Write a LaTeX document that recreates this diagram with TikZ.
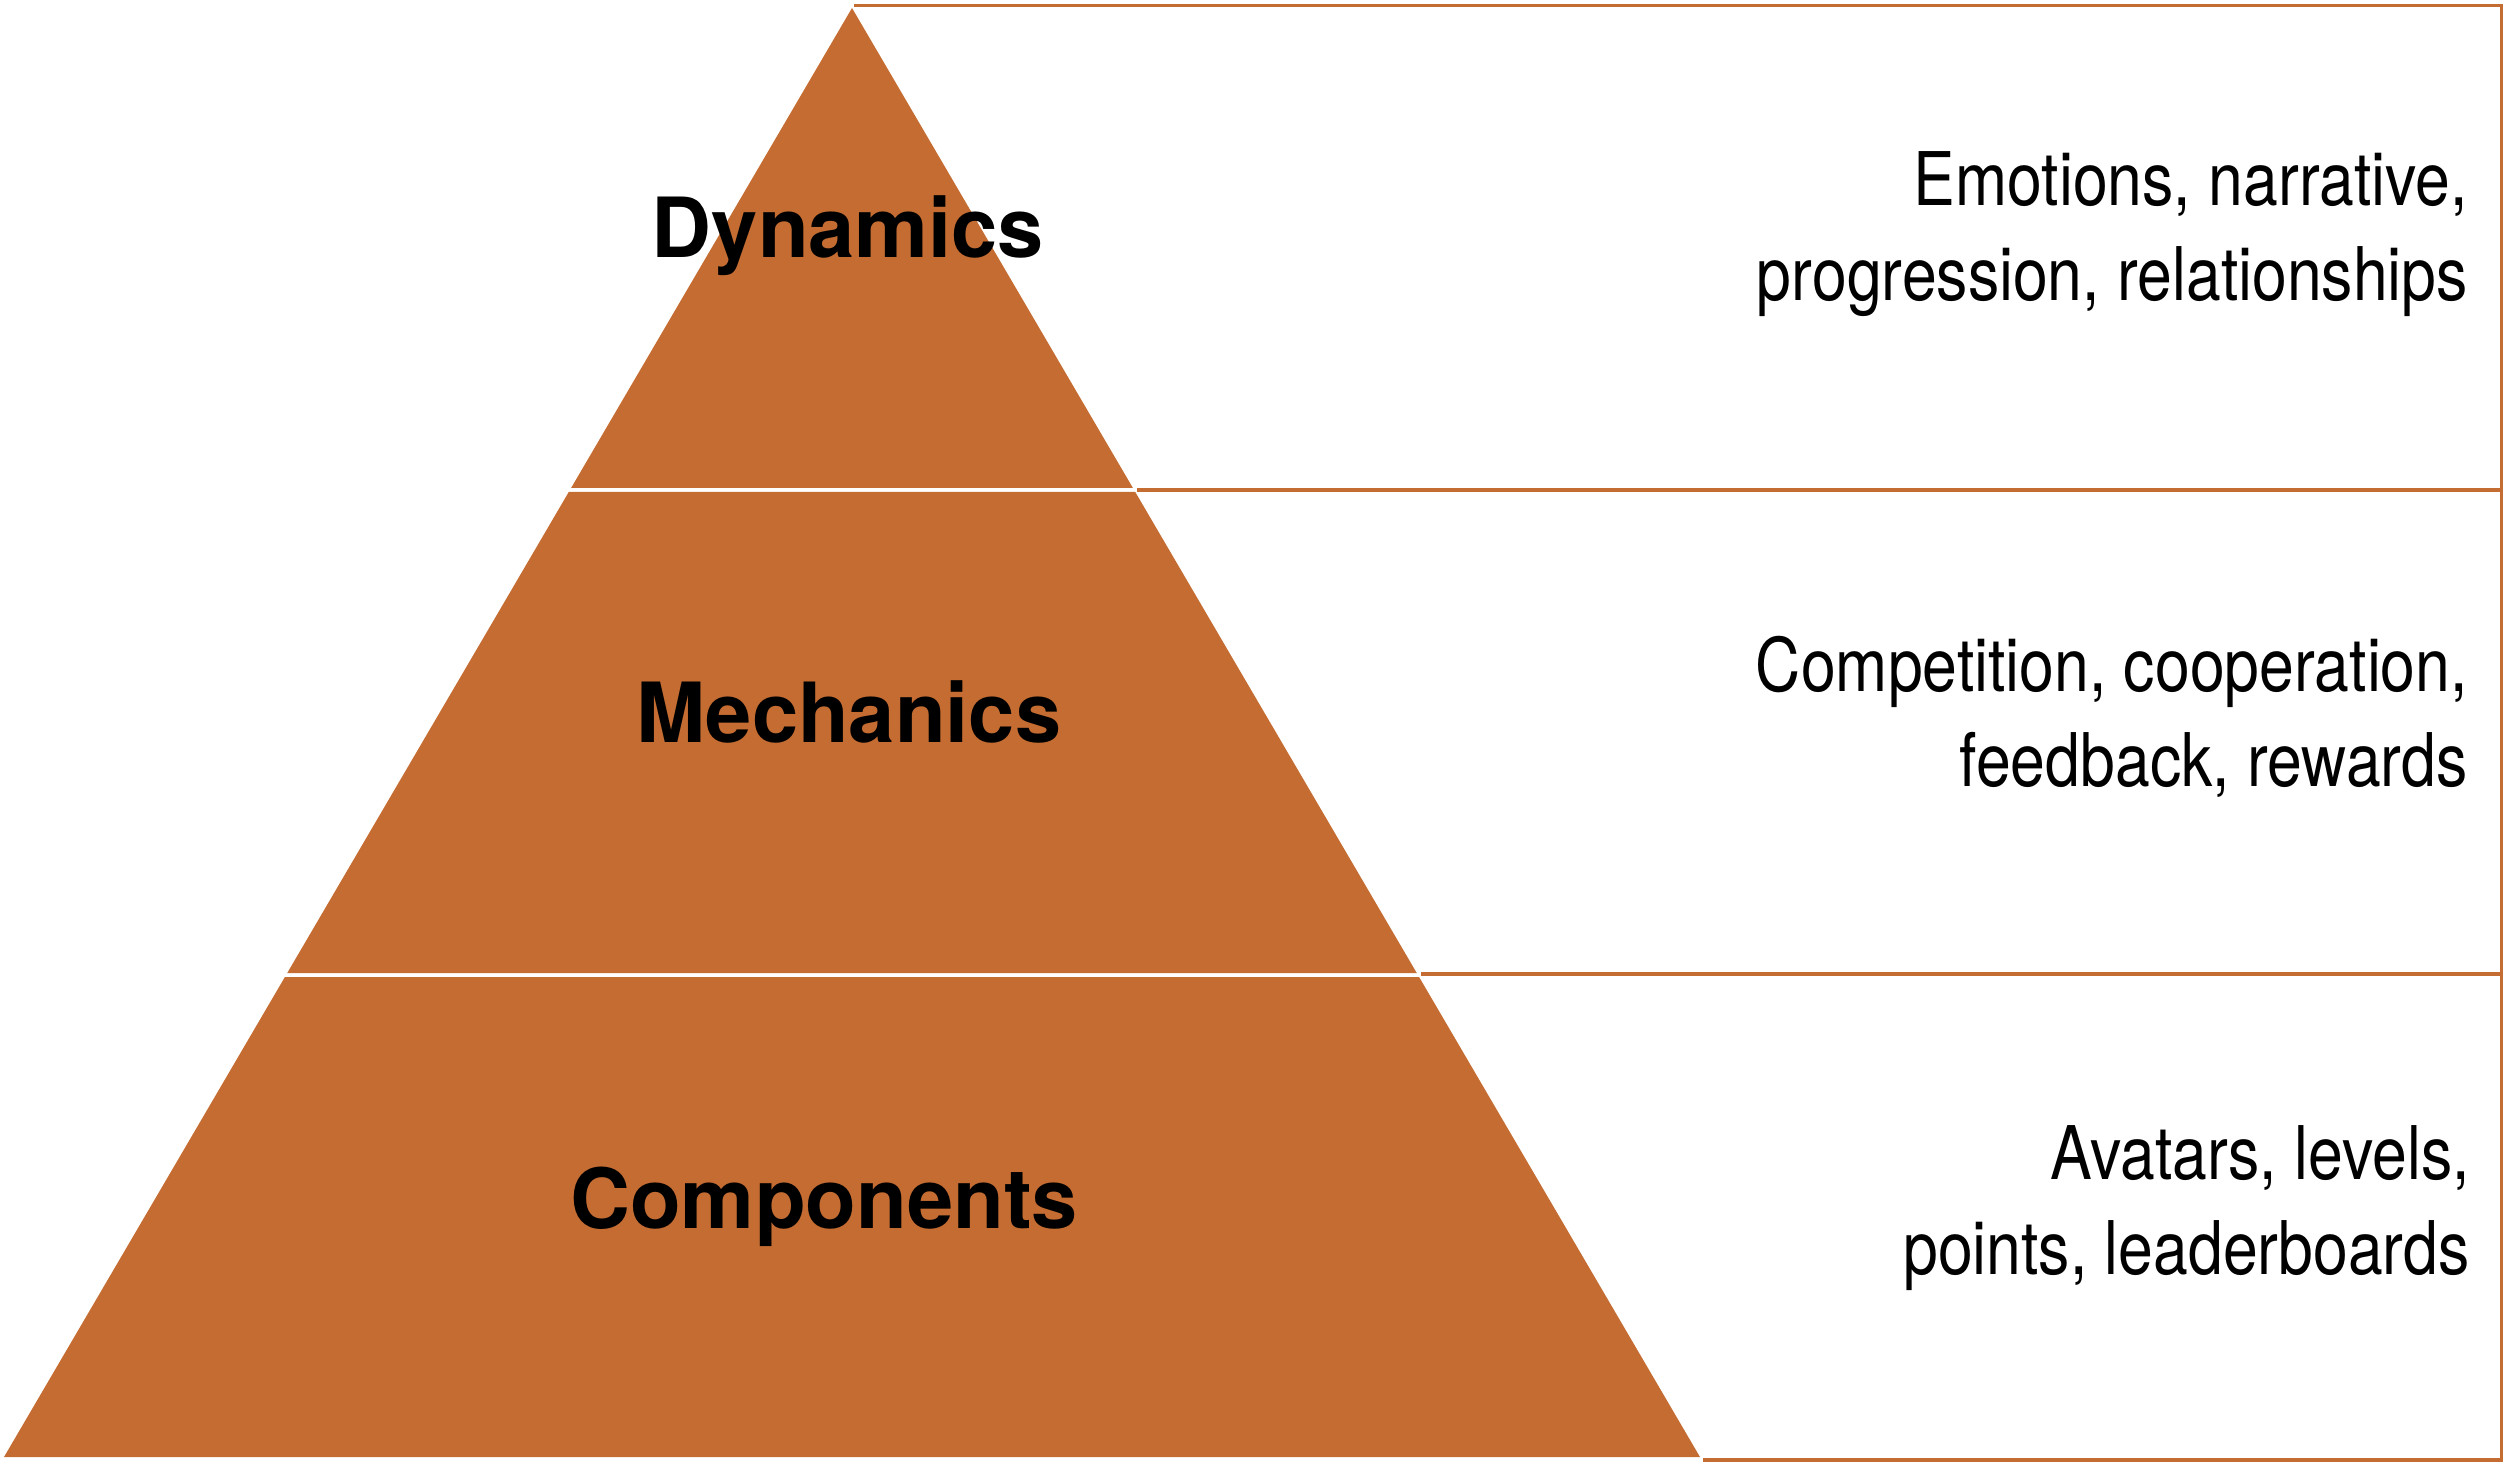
\documentclass[tikz,border=0pt]{standalone}
\usepackage{fontspec}
\setmainfont{TeX Gyre Heros}
\newfontfamily\narrowfont[FakeStretch=0.845]{TeX Gyre Heros}
\usetikzlibrary{calc}
\definecolor{pyr}{RGB}{196,108,49}
\begin{document}
\begin{tikzpicture}[x=1pt,y=-1pt,
  layer/.style={fill=pyr,draw=none},
  rule/.style={draw=pyr,line width=3.2pt},
  lvl/.style={font=\fontsize{83}{100}\selectfont\bfseries,inner sep=0pt,anchor=base},
  desc/.style={font=\narrowfont\fontsize{74}{95}\selectfont,align=right,inner sep=0pt,anchor=base east}]
\useasboundingbox (0,0) rectangle (2508,1466);
\coordinate (apex) at (852,8);
\coordinate (bl) at (4,1457);
\coordinate (br) at (1700,1457);
% pyramid layers
\path[layer] (apex) -- ($(apex)!0.33126!(br)$) -- ($(apex)!0.33126!(bl)$) -- cycle;
\path[layer] ($(apex)!0.33402!(bl)$) -- ($(apex)!0.33402!(br)$) -- ($(apex)!0.66598!(br)$) -- ($(apex)!0.66598!(bl)$) -- cycle;
\path[layer] ($(apex)!0.66874!(bl)$) -- ($(apex)!0.66874!(br)$) -- (br) -- (bl) -- cycle;
% right frame
\coordinate (t0) at (854,5.5);
\coordinate (tr) at (2501.5,5.5);
\coordinate (b0) at (1703,1460);
\coordinate (m1) at (1137,490);
\coordinate (m2) at (1421,974);
\draw[rule,line join=miter] (t0) -- (tr) -- (tr |- b0) -- (b0);
\draw[rule] (m1) -- (m1 -| tr);
\draw[rule] (m2) -- (m2 -| tr);
% labels
\node[lvl] (dyn) at (848,257) {Dynamics};
\node[lvl] (mec) at (849,742) {Mechanics};
\node[lvl] (com) at (824,1228) {Components};
\node[desc] (d1) at (2468,300) {Emotions, narrative,\\progression, relationships};
\node[desc] (d2) at (2468,786) {Competition, cooperation,\\feedback, rewards};
\node[desc] (d3) at (2470,1274) {Avatars, levels,\\points, leaderboards};
\end{tikzpicture}
\end{document}
